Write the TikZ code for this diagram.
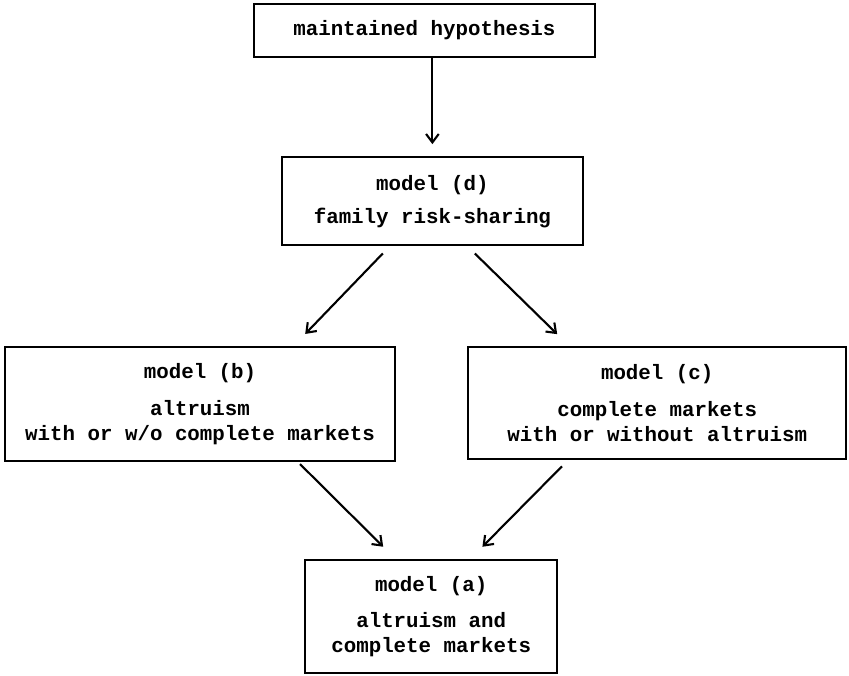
\documentclass[tikz,border=0pt]{standalone}
\usepackage{fontspec}
\setmonofont{Liberation Mono}
\usetikzlibrary{arrows.meta}
\begin{document}
\begin{tikzpicture}[>={Straight Barb[length=6pt,width=9pt]}, line width=1.5pt,
  box/.style={draw, inner sep=0pt, align=center, font=\ttfamily\bfseries\fontsize{14.8}{17.5}\selectfont}]
\useasboundingbox (0,0) rectangle (21.225,-16.875);
\node[box, minimum width=8.53cm, minimum height=1.33cm] (hyp) at (10.61,-.76) {maintained hypothesis};
\node[box, minimum width=7.53cm, minimum height=2.2cm] (d) at (10.81,-5.03) {model (d)\\[6pt] family risk-sharing};
\node[box, minimum width=9.75cm, minimum height=2.85cm] (b) at (5,-10.1) {model (b)\\[9pt] altruism\\ with or w/o complete markets};
\node[box, minimum width=9.45cm, minimum height=2.8cm] (c) at (16.43,-10.08) {model (c)\\[9pt] complete markets\\ with or without altruism};
\node[box, minimum width=6.3cm, minimum height=2.83cm] (a) at (10.78,-15.41) {model (a)\\[8pt] altruism and\\ complete markets};
\draw[->, shorten >=.3cm] (d.north |- hyp.south) -- (d.north);
\draw[->] ([xshift=-1.24cm,yshift=-.18cm]d.south) -- ([xshift=2.63cm,yshift=.3cm]b.north);
\draw[->] ([xshift=1.06cm,yshift=-.18cm]d.south) -- ([xshift=-2.5cm,yshift=.3cm]c.north);
\draw[->] ([xshift=2.5cm,yshift=-.05cm]b.south) -- ([xshift=-1.2cm,yshift=.3cm]a.north);
\draw[->] ([xshift=-2.38cm,yshift=-.15cm]c.south) -- ([xshift=1.28cm,yshift=.3cm]a.north);
\end{tikzpicture}
\end{document}
